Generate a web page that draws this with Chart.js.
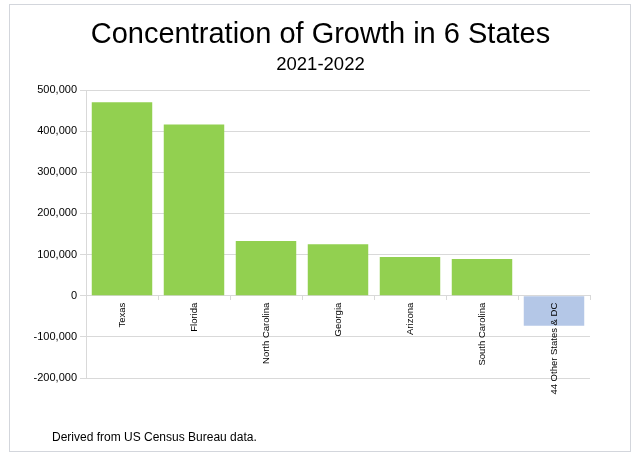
<!DOCTYPE html>
<html>
<head>
<meta charset="utf-8">
<script src="https://cdn.jsdelivr.net/npm/chart.js@4"></script>
<style>
    body { margin: 0; background: #fff; font-family: "Liberation Sans", Arial, sans-serif; color: #000; }
    #frame {
        position: absolute; left: 9px; top: 4px;
        width: 620px; height: 446px;
        border: 1px solid #d3d6dc;
    }
    #chartBox { position: absolute; left: 0; top: 0; width: 634px; height: 453px; }
    .heading {
        position: absolute; left: 0; width: 641px;
        text-align: center; white-space: nowrap;
    }
    #title { top: 19px; font-size: 29px; line-height: 29px; }
    #subtitle { top: 55px; font-size: 18.5px; line-height: 18.5px; }
    #source { position: absolute; left: 52px; top: 430px; font-size: 12px; }
</style>
</head>
<body>
<div id="frame"></div>
<div id="chartBox"><canvas id="growthChart" width="634" height="453"></canvas></div>
<div id="title" class="heading"></div>
<div id="subtitle" class="heading"></div>
<div id="source"></div>
<script>
// 데이터 (2021-2022 인구 증가)
const categories = ['Texas', 'Florida', 'North Carolina', 'Georgia', 'Arizona', 'South Carolina', '44 Other States & DC'];
const growth = [470000, 416000, 133000, 125000, 94000, 89000, -73000];
const yTickMin = -200000;
const yTickMax = 500000;
const yTickStep = 100000;

const titleText = 'Concentration of Growth in 6 States';
const subtitleText = '2021-2022';
const sourceText = 'Derived from US Census Bureau data.';

const FONT = '"Liberation Sans", Arial, sans-serif';
const GREEN = '#92d050';
const BLUE = '#b4c7e7';
const GRID = '#d9d9d9';

document.getElementById('title').textContent = titleText;
document.getElementById('subtitle').textContent = subtitleText;
document.getElementById('source').textContent = sourceText;

const ctx = document.getElementById('growthChart');
new Chart(ctx, {
    type: 'bar',
    data: {
        labels: categories,
        datasets: [{
            data: growth,
            backgroundColor: c => (c.raw < 0 ? BLUE : GREEN),
            borderWidth: 0,
            barPercentage: 0.84,
            categoryPercentage: 1
        }]
    },
    options: {
        responsive: false,
        devicePixelRatio: 1,
        animation: false,
        layout: { padding: { left: 20, right: 44, top: 90, bottom: 75 } },
        plugins: {
            legend: { display: false },
            tooltip: { enabled: false }
        },
        scales: {
            x: {
                position: { y: 0 },
                grid: { offset: true, drawOnChartArea: false, drawTicks: true, tickLength: 4, color: GRID },
                border: { display: true, color: GRID },
                ticks: {
                    z: 1,
                    autoSkip: false,
                    maxRotation: 90,
                    minRotation: 90,
                    padding: 3,
                    color: '#000',
                    font: { family: FONT, size: 9.5 }
                }
            },
            y: {
                min: yTickMin,
                max: yTickMax,
                afterFit: scale => { scale.width = 66; },
                grid: { color: GRID, tickLength: 6 },
                border: { display: true, color: GRID },
                ticks: {
                    stepSize: yTickStep,
                    padding: 3,
                    color: '#000',
                    font: { family: FONT, size: 11 },
                    callback: v => v.toLocaleString('en-US')
                }
            }
        }
    }
});
</script>
</body>
</html>
